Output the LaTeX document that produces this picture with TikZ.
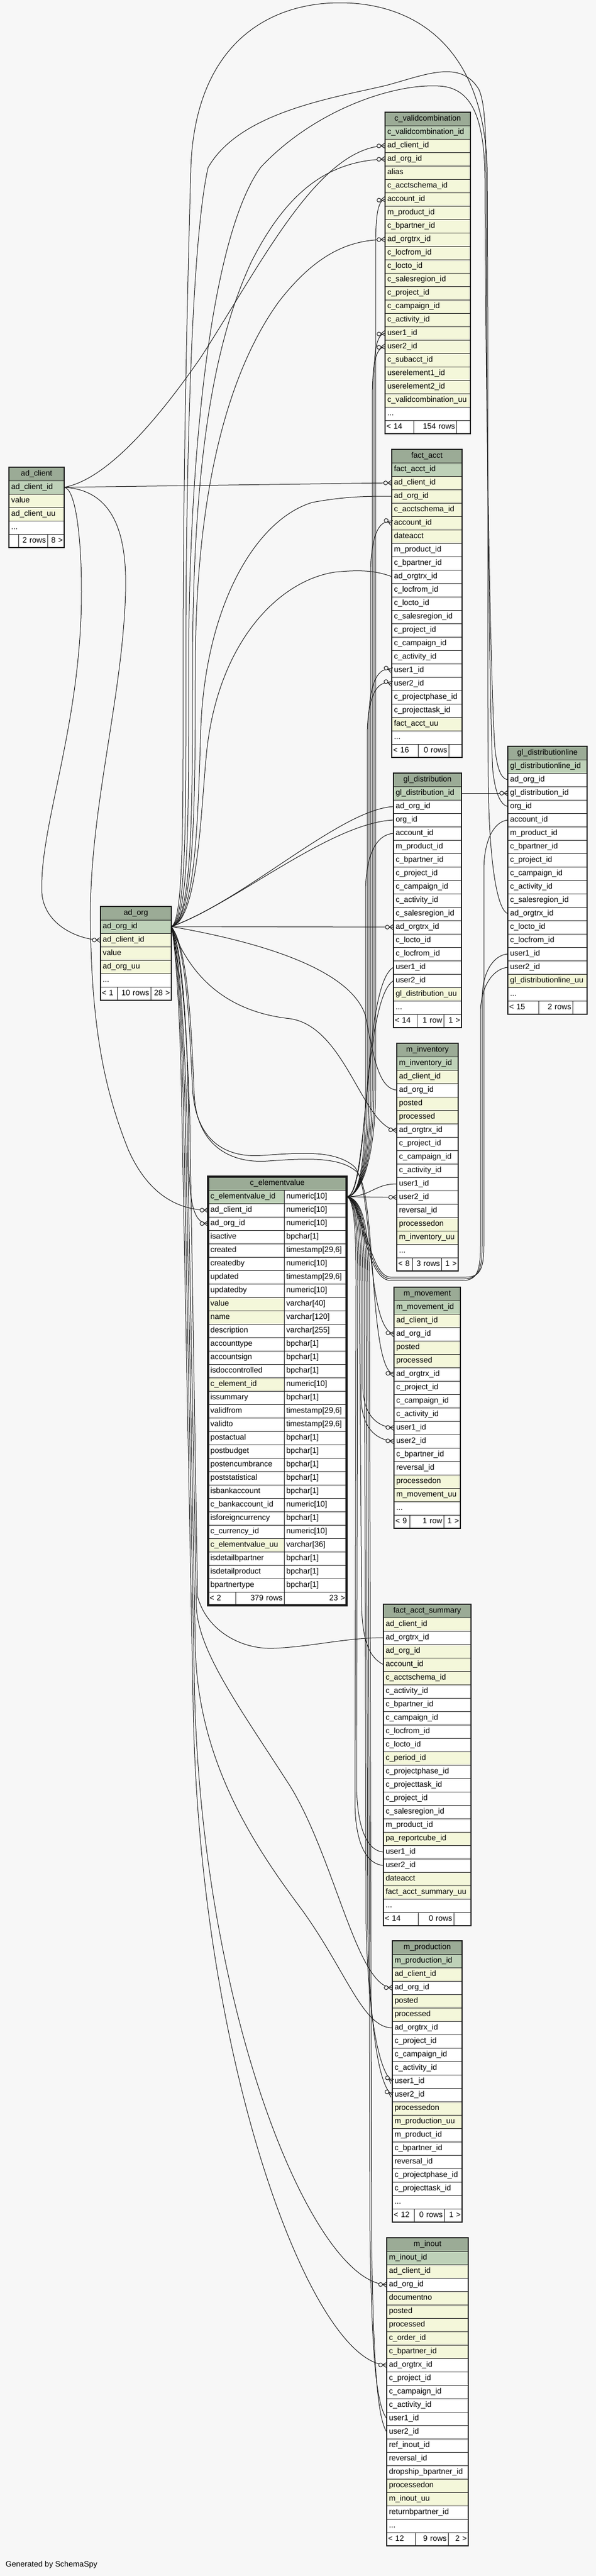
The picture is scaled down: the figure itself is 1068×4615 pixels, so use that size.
\documentclass[tikz,border=0pt]{standalone}
\usepackage{fontspec}
\setmainfont{Liberation Sans}
\usetikzlibrary{decorations.markings}
\definecolor{bgc}{HTML}{F7F7F7}
\definecolor{ttlc}{HTML}{9BAB96}
\definecolor{pkc}{HTML}{BED1B8}
\definecolor{ixc}{HTML}{F4F7DA}
\definecolor{lnc}{HTML}{1A1A1A}
\newcommand\threedots{.{}.{}.}
\tikzset{
 cell/.style={draw=lnc, line width=0.9pt, inner xsep=4pt, inner ysep=0pt, minimum height=24pt, text height=10.5pt, text depth=3.5pt, anchor=north west, outer sep=0pt, font=\fontsize{14}{16}\selectfont},
 fcell/.style={cell, inner xsep=2.5pt},
 tframe/.style={draw=lnc, line width=1.4pt},
 fk/.style={draw=lnc, line width=1pt, postaction={decorate}, decoration={markings, mark=at position 1 with {\draw[lnc,line width=1pt,fill=bgc] (-11pt,0pt) circle (3.5pt); \draw[lnc,line width=1pt] (-7.5pt,0pt) -- (0pt,4.8pt) (-7.5pt,0pt) -- (0pt,-4.8pt);}}},
}
\newcommand\dbtab[6]{%
 \pgfmathsetmacro\dbtw{#4-8}%
 \node[cell,fill=ttlc,align=center,minimum width=#4pt,text width=\dbtw pt] (#11) at (#2,#3) {#5};
 \foreach [count=\ri from 2] \rc/\rt in {#6} {
  \node[cell,fill=\rc,align=left,minimum width=#4pt,text width=\dbtw pt] (#1\ri) at (#2,{#3+(\ri-1)*24}) {\rt};
 }
}
\newcommand\dbfoot[9]{%
 \pgfmathsetmacro\dbfa{#4-5}\pgfmathsetmacro\dbfb{#5-5}\pgfmathsetmacro\dbfc{#6-5}%
 \pgfmathsetmacro\dbxb{#2+#4}\pgfmathsetmacro\dbxc{#2+#4+#5}%
 \node[fcell,fill=white,align=left,minimum width=#4pt,text width=\dbfa pt] (#1f1) at (#2,#3) {\mbox{#7}};
 \node[fcell,fill=white,align=right,minimum width=#5pt,text width=\dbfb pt] (#1f2) at (\dbxb,#3) {\mbox{#8}};
 \node[fcell,fill=white,align=right,minimum width=#6pt,text width=\dbfc pt] (#1f3) at (\dbxc,#3) {\mbox{#9}};
 \draw[tframe] (#11.north west) rectangle (#1f3.south east);
}
\begin{document}
\begin{tikzpicture}[x=1pt,y=-1pt]
\useasboundingbox (0,0) rectangle (1068,4615);
\fill[bgc] (0,0) rectangle (1068,4615);

% ---------- tables ----------
\dbtab{ac}{16}{837}{99}{ad\_client}{pkc/ad\_client\_id, ixc/value, ixc/ad\_client\_uu, white/\threedots}
\dbfoot{ac}{16}{957}{17}{52}{30}{}{2 rows}{8 >}

\dbtab{cv}{690}{201}{153}{c\_validcombination}{pkc/c\_validcombination\_id, ixc/ad\_client\_id, ixc/ad\_org\_id, ixc/alias, ixc/c\_acctschema\_id, ixc/account\_id, ixc/m\_product\_id, ixc/c\_bpartner\_id, ixc/ad\_orgtrx\_id, ixc/c\_locfrom\_id, ixc/c\_locto\_id, ixc/c\_salesregion\_id, ixc/c\_project\_id, ixc/c\_campaign\_id, ixc/c\_activity\_id, ixc/user1\_id, ixc/user2\_id, ixc/c\_subacct\_id, ixc/userelement1\_id, ixc/userelement2\_id, ixc/c\_validcombination\_uu, white/\threedots}
\dbfoot{cv}{690}{753}{51}{77}{25}{< 14}{154 rows}{}

\dbtab{fa}{702}{805}{126}{fact\_acct}{pkc/fact\_acct\_id, ixc/ad\_client\_id, ixc/ad\_org\_id, ixc/c\_acctschema\_id, ixc/account\_id, ixc/dateacct, white/m\_product\_id, white/c\_bpartner\_id, white/ad\_orgtrx\_id, white/c\_locfrom\_id, white/c\_locto\_id, white/c\_salesregion\_id, white/c\_project\_id, white/c\_campaign\_id, white/c\_activity\_id, white/user1\_id, white/user2\_id, white/c\_projectphase\_id, white/c\_projecttask\_id, ixc/fact\_acct\_uu, white/\threedots}
\dbfoot{fa}{702}{1333}{47}{55}{24}{< 16}{0 rows}{}

\dbtab{gd}{705}{1385}{122}{gl\_distribution}{pkc/gl\_distribution\_id, white/ad\_org\_id, white/org\_id, white/account\_id, white/m\_product\_id, white/c\_bpartner\_id, white/c\_project\_id, white/c\_campaign\_id, white/c\_activity\_id, white/c\_salesregion\_id, white/ad\_orgtrx\_id, white/c\_locto\_id, white/c\_locfrom\_id, white/user1\_id, white/user2\_id, ixc/gl\_distribution\_uu, white/\threedots}
\dbfoot{gd}{705}{1817}{42}{48}{32}{< 14}{1 row}{1 >}

\dbtab{gdl}{910}{1337}{142}{gl\_distributionline}{pkc/gl\_distributionline\_id, white/ad\_org\_id, white/gl\_distribution\_id, white/org\_id, white/account\_id, white/m\_product\_id, white/c\_bpartner\_id, white/c\_project\_id, white/c\_campaign\_id, white/c\_activity\_id, white/c\_salesregion\_id, white/ad\_orgtrx\_id, white/c\_locto\_id, white/c\_locfrom\_id, white/user1\_id, white/user2\_id, ixc/gl\_distributionline\_uu, white/\threedots}
\dbfoot{gdl}{910}{1793}{55}{61}{26}{< 15}{2 rows}{}

\dbtab{ao}{180}{1624}{127}{ad\_org}{pkc/ad\_org\_id, ixc/ad\_client\_id, ixc/value, ixc/ad\_org\_uu, white/\threedots}
\dbfoot{ao}{180}{1768}{30}{60}{37}{< 1}{10 rows}{28 >}

\dbtab{mi}{711}{1869}{110}{m\_inventory}{pkc/m\_inventory\_id, ixc/ad\_client\_id, white/ad\_org\_id, ixc/posted, ixc/processed, white/ad\_orgtrx\_id, white/c\_project\_id, white/c\_campaign\_id, white/c\_activity\_id, white/user1\_id, white/user2\_id, white/reversal\_id, ixc/processedon, ixc/m\_inventory\_uu, white/\threedots}
\dbfoot{mi}{711}{2253}{28}{52}{30}{< 8}{3 rows}{1 >}

\dbtab{mm}{706}{2306}{119}{m\_movement}{pkc/m\_movement\_id, ixc/ad\_client\_id, white/ad\_org\_id, ixc/posted, ixc/processed, white/ad\_orgtrx\_id, white/c\_project\_id, white/c\_campaign\_id, white/c\_activity\_id, white/user1\_id, white/user2\_id, white/c\_bpartner\_id, white/reversal\_id, ixc/processedon, ixc/m\_movement\_uu, white/\threedots}
\dbfoot{mm}{706}{2714}{28}{61}{30}{< 9}{1 row}{1 >}

\dbtab{fas}{687}{2874}{157}{fact\_acct\_summary}{ixc/ad\_client\_id, white/ad\_orgtrx\_id, ixc/ad\_org\_id, ixc/account\_id, ixc/c\_acctschema\_id, white/c\_activity\_id, white/c\_bpartner\_id, white/c\_campaign\_id, white/c\_locfrom\_id, white/c\_locto\_id, ixc/c\_period\_id, white/c\_projectphase\_id, white/c\_projecttask\_id, white/c\_project\_id, white/c\_salesregion\_id, white/m\_product\_id, ixc/pa\_reportcube\_id, white/user1\_id, white/user2\_id, ixc/dateacct, ixc/fact\_acct\_summary\_uu, white/\threedots}
\dbfoot{fas}{687}{3426}{62}{64}{31}{< 14}{0 rows}{}

\dbtab{mp}{703}{3477}{125}{m\_production}{pkc/m\_production\_id, ixc/ad\_client\_id, white/ad\_org\_id, ixc/posted, ixc/processed, white/ad\_orgtrx\_id, white/c\_project\_id, white/c\_campaign\_id, white/c\_activity\_id, white/user1\_id, white/user2\_id, ixc/processedon, ixc/m\_production\_uu, white/m\_product\_id, white/c\_bpartner\_id, white/reversal\_id, white/c\_projectphase\_id, white/c\_projecttask\_id, white/\threedots}
\dbfoot{mp}{703}{3957}{39}{54}{32}{< 12}{0 rows}{1 >}

\dbtab{mio}{693}{4009}{146}{m\_inout}{pkc/m\_inout\_id, ixc/ad\_client\_id, white/ad\_org\_id, ixc/documentno, ixc/posted, ixc/processed, ixc/c\_order\_id, ixc/c\_bpartner\_id, white/ad\_orgtrx\_id, white/c\_project\_id, white/c\_campaign\_id, white/c\_activity\_id, white/user1\_id, white/user2\_id, white/ref\_inout\_id, white/reversal\_id, white/dropship\_bpartner\_id, ixc/processedon, ixc/m\_inout\_uu, white/returnbpartner\_id, white/\threedots}
\dbfoot{mio}{693}{4537}{51}{59}{36}{< 12}{9 rows}{2 >}

% c_elementvalue (two columns)
\node[cell,fill=ttlc,align=center,minimum width=248pt,text width=240pt] (ce1) at (373,2108) {c\_elementvalue};
\foreach [count=\ri from 2] \rc/\rn/\ry in {{pkc/c\_elementvalue\_id/numeric[10]}, {white/ad\_client\_id/numeric[10]}, {white/ad\_org\_id/numeric[10]}, {white/isactive/bpchar[1]}, {white/created/timestamp[29,6]}, {white/createdby/numeric[10]}, {white/updated/timestamp[29,6]}, {white/updatedby/numeric[10]}, {ixc/value/varchar[40]}, {ixc/name/varchar[120]}, {white/description/varchar[255]}, {white/accounttype/bpchar[1]}, {white/accountsign/bpchar[1]}, {white/isdoccontrolled/bpchar[1]}, {ixc/c\_element\_id/numeric[10]}, {white/issummary/bpchar[1]}, {white/validfrom/timestamp[29,6]}, {white/validto/timestamp[29,6]}, {white/postactual/bpchar[1]}, {white/postbudget/bpchar[1]}, {white/postencumbrance/bpchar[1]}, {white/poststatistical/bpchar[1]}, {white/isbankaccount/bpchar[1]}, {white/c\_bankaccount\_id/numeric[10]}, {white/isforeigncurrency/bpchar[1]}, {white/c\_currency\_id/numeric[10]}, {ixc/c\_elementvalue\_uu/varchar[36]}, {white/isdetailbpartner/bpchar[1]}, {white/isdetailproduct/bpchar[1]}, {white/bpartnertype/bpchar[1]}} {
 \node[cell,fill=\rc,align=left,minimum width=136pt,text width=128pt] (ce\ri) at (373,{2108+(\ri-1)*24}) {\rn};
 \node[cell,fill=white,align=left,minimum width=112pt,text width=104pt] (cet\ri) at (509,{2108+(\ri-1)*24}) {\ry};
}
\dbfoot{ce}{373}{2852}{49}{87}{112}{< 2}{379 rows}{23 >}
\draw[lnc,line width=3.5pt] (ce1.north west) rectangle (cef3.south east);

\node[anchor=base west,inner sep=0pt,font=\fontsize{14}{16}\selectfont] (gen) at (10,4598) {Generated by SchemaSpy};

% ---------- connectors ----------
% ad_client
\draw[fk] (ac2.east) .. controls (185,860) and (270,770) .. (360,640) .. controls (470,470) and (570,265) .. (cv3.west);
\draw[fk] (ac2.east) -- (fa3.west);
\draw[fk] (ac2.east) .. controls (135,875) and (146,960) .. (146,1060) .. controls (146,1300) and (70,1480) .. (75,1600) .. controls (80,1660) and (145,1684) .. (ao3.west);
\draw[fk] (ac2.east) .. controls (200,878) and (228,950) .. (225,1060) .. controls (220,1250) and (160,1450) .. (162,1650) .. controls (164,1850) and (190,1960) .. (230,2060) .. controls (270,2150) and (330,2168) .. (ce3.west);

% ad_org upward
\draw[fk] (ao2.east) .. controls (345,1650) and (345,1450) .. (345,1200) .. controls (345,800) and (390,600) .. (450,470) .. controls (520,330) and (600,288) .. (cv4.west);
\draw[fk] (ao2.east) .. controls (348,1650) and (350,1450) .. (350,1200) .. controls (350,850) and (420,650) .. (500,540) .. controls (570,450) and (630,430) .. (cv10.west);
\draw[fk] (ao2.east) .. controls (352,1650) and (355,1450) .. (360,1300) .. controls (370,1080) and (460,930) .. (560,900) .. controls (620,889) and (660,889) .. (fa4.west);
\draw[fk] (ao2.east) .. controls (355,1650) and (360,1450) .. (370,1350) .. controls (390,1150) and (500,1040) .. (600,1025) .. controls (640,1021) and (670,1021) .. (fa10.west);
\draw[fk] (ao2.east) .. controls (440,1612) and (610,1450) .. (gd3.west);
\draw[fk] (ao2.east) .. controls (420,1620) and (590,1475) .. (gd4.west);
\draw[fk] (ao2.east) -- (gd12.west);
\draw[fk] (ao2.east) .. controls (340,1650) and (338,1450) .. (338,1200) .. controls (338,800) and (380,420) .. (467,300) .. controls (560,200) and (700,150) .. (785,154) .. controls (840,156) and (868,200) .. (869,320) .. controls (870,700) and (880,1300) .. (888,1350) .. controls (893,1385) and (900,1395) .. (gdl3.west);
\draw[fk] (ao2.east) .. controls (335,1650) and (333,1450) .. (333,1200) .. controls (333,800) and (345,420) .. (373,300) .. controls (430,200) and (600,175) .. (692,153) .. controls (760,135) and (825,105) .. (858,160) .. controls (870,185) and (871,250) .. (871,320) .. controls (872,800) and (878,1300) .. (883,1380) .. controls (888,1425) and (898,1442) .. (gdl5.west);
\draw[fk] (ao2.east) .. controls (330,1650) and (328,1450) .. (328,1200) .. controls (328,800) and (338,450) .. (342,300) .. controls (350,80) and (480,5) .. (609,5) .. controls (740,5) and (866,80) .. (873,300) .. controls (876,800) and (872,1300) .. (876,1450) .. controls (880,1560) and (892,1630) .. (gdl13.west);

% ad_org downward
\draw[fk] (ao2.east) .. controls (480,1690) and (630,1740) .. (655,1820) .. controls (670,1900) and (680,1950) .. (mi4.west);
\draw[fk] (ao2.east) .. controls (330,1720) and (380,1810) .. (520,1825) .. controls (620,1840) and (650,2020) .. (mi7.west);
\draw[fk] (ao2.east) .. controls (335,1700) and (340,1850) .. (345,1950) .. controls (350,2040) and (400,2075) .. (470,2070) .. controls (540,2065) and (600,2060) .. (635,2090) .. controls (670,2130) and (655,2380) .. (mm4.west);
\draw[fk] (ao2.east) .. controls (338,1700) and (343,1850) .. (348,1960) .. controls (352,2050) and (410,2085) .. (480,2080) .. controls (550,2075) and (610,2072) .. (640,2100) .. controls (675,2140) and (660,2455) .. (mm7.west);
\draw[fk] (ao2.east) .. controls (325,1700) and (335,1850) .. (340,2000) -- (354,2860) .. controls (370,2920) and (430,2955) .. (490,2953) .. controls (560,2950) and (620,2934) .. (fas3.west);
\draw[fk] (ao2.east) .. controls (322,1700) and (330,1850) .. (335,2000) -- (352,2880) .. controls (356,2960) and (430,3060) .. (520,3200) .. controls (600,3330) and (640,3561) .. (mp4.west);
\draw[fk] (ao2.east) .. controls (320,1700) and (328,1850) .. (332,2000) -- (350,2950) .. controls (354,3150) and (450,3300) .. (540,3420) .. controls (620,3530) and (650,3633) .. (mp7.west);
\draw[fk] (ao2.east) .. controls (318,1700) and (326,1850) .. (329,2000) -- (348,3000) .. controls (356,3600) and (560,4090) .. (mio4.west);
\draw[fk] (ao2.east) .. controls (316,1700) and (324,1850) .. (326,2000) -- (346,3050) .. controls (356,3700) and (560,4235) .. (mio10.west);
\draw[fk] (ao2.east) .. controls (330,1700) and (338,1900) .. (338,2050) .. controls (338,2150) and (345,2192) .. (ce4.west);

% c_elementvalue upward
\draw[fk] (cet2.east) .. controls (660,2144) and (650,1790) .. (gd16.west);
\draw[fk] (cet2.east) .. controls (664,2144) and (648,1765) .. (gd15.west);
\draw[fk] (cet2.east) .. controls (645,2144) and (655,2080) .. (655,1950) -- (655,1600) .. controls (655,1530) and (675,1495) .. (gd5.west);
\draw[fk] (cet2.east) .. controls (645,2144) and (658,2080) .. (658,1950) -- (658,1320) .. controls (658,1250) and (675,1215) .. (fa18.west);
\draw[fk] (cet2.east) .. controls (645,2144) and (661,2080) .. (661,1950) -- (661,1290) .. controls (661,1225) and (678,1191) .. (fa17.west);
\draw[fk] (cet2.east) .. controls (645,2144) and (664,2080) .. (664,1950) -- (664,1030) .. controls (664,960) and (680,927) .. (fa6.west);
\draw[fk] (cet2.east) .. controls (645,2144) and (667,2080) .. (667,1950) -- (667,720) .. controls (667,655) and (672,623) .. (cv18.west);
\draw[fk] (cet2.east) .. controls (645,2144) and (670,2080) .. (670,1950) -- (670,690) .. controls (670,630) and (674,599) .. (cv17.west);
\draw[fk] (cet2.east) .. controls (645,2144) and (673,2080) .. (673,1950) -- (673,450) .. controls (673,390) and (676,359) .. (cv7.west);
% c_elementvalue to gl_distributionline (around m_inventory)
\draw[fk] (cet2.east) .. controls (652,2146) and (660,2288) .. (700,2288) -- (835,2288) .. controls (862,2288) and (867,2270) .. (867,2230) -- (867,1560) .. controls (867,1505) and (885,1472) .. (gdl6.west);
\draw[fk] (cet2.east) .. controls (650,2146) and (657,2291) .. (700,2291) -- (832,2291) .. controls (859,2291) and (864,2272) .. (864,2230) -- (864,1790) .. controls (864,1740) and (885,1711) .. (gdl16.west);
\draw[fk] (cet2.east) .. controls (648,2146) and (654,2294) .. (700,2294) -- (829,2294) .. controls (856,2294) and (861,2275) .. (861,2230) -- (861,1815) .. controls (861,1765) and (885,1735) .. (gdl17.west);
% c_elementvalue downward
\draw[fk] (cet2.east) .. controls (665,2144) and (670,2121) .. (mi11.west);
\draw[fk] (cet2.east) -- (mi12.west);
\draw[fk] (cet2.east) .. controls (645,2146) and (650,2220) .. (650,2300) -- (650,2480) .. controls (650,2535) and (675,2556) .. (mm11.west);
\draw[fk] (cet2.east) .. controls (643,2146) and (647,2220) .. (647,2300) -- (647,2500) .. controls (647,2560) and (675,2580) .. (mm12.west);
\draw[fk] (cet2.east) .. controls (640,2146) and (644,2220) .. (644,2300) -- (648,2880) .. controls (650,2940) and (662,2970) .. (fas5.west);
\draw[fk] (cet2.east) .. controls (638,2146) and (641,2220) .. (641,2300) -- (639,3200) .. controls (640,3280) and (660,3316) .. (fas19.west);
\draw[fk] (cet2.east) .. controls (636,2146) and (638,2220) .. (638,2300) -- (636,3230) .. controls (637,3310) and (660,3340) .. (fas20.west);
\draw[fk] (cet2.east) .. controls (648,2146) and (653,2220) .. (653,2300) -- (656,3450) .. controls (660,3620) and (680,3712) .. (mp11.west);
\draw[fk] (cet2.east) .. controls (650,2146) and (656,2220) .. (656,2300) -- (659,3460) .. controls (663,3640) and (680,3740) .. (mp12.west);
\draw[fk] (cet2.east) .. controls (652,2146) and (659,2220) .. (659,2300) -- (663,4000) .. controls (666,4200) and (672,4305) .. (mio14.west);
\draw[fk] (cet2.east) .. controls (654,2146) and (662,2220) .. (662,2300) -- (666,4020) .. controls (669,4220) and (675,4330) .. (mio15.west);

% gl_distribution
\draw[fk] (gd2.east) -- (gdl4.west);
\end{tikzpicture}
\end{document}
